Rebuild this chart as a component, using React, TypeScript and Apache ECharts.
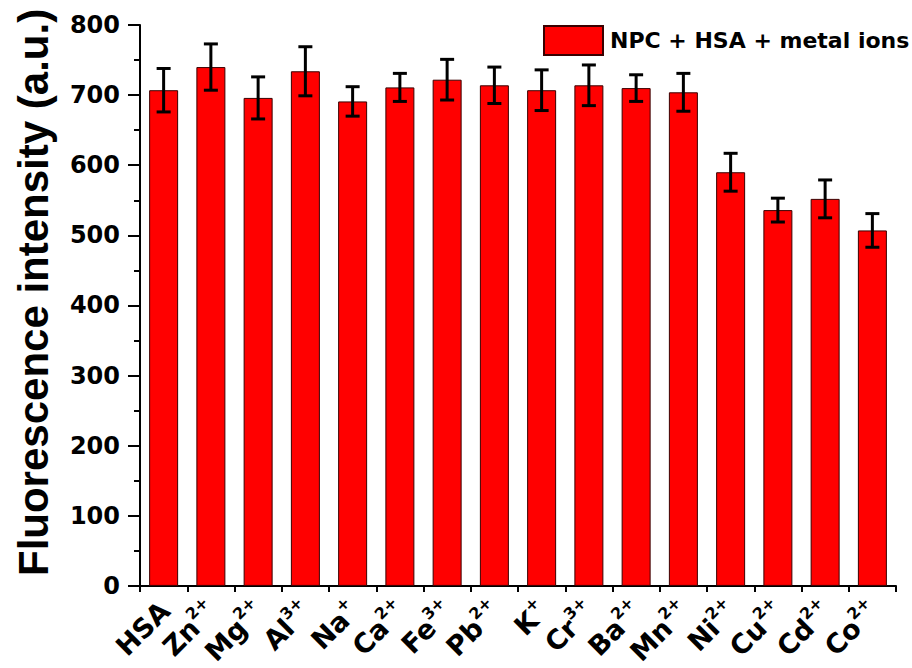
import React, { useEffect, useRef } from "react";
import * as echarts from "echarts";

const categories = ["HSA", "Zn2+", "Mg2+", "Al3+", "Na+", "Ca2+", "Fe3+", "Pb2+", "K+", "Cr3+", "Ba2+", "Mn2+", "Ni2+", "Cu2+", "Cd2+", "Co2+"];
const intensity = [707, 740, 696, 734, 691, 711, 722, 714, 707, 714, 710, 704, 590, 536, 552, 507];
const errors = [31, 33, 30, 35, 21, 20, 29, 26, 29, 29, 19, 27, 27, 17, 27, 24];
const seriesName = "NPC + HSA + metal ions";
const yTitle = "Fluorescence intensity (a.u.)";

const LAB_FONT = "'DejaVu Sans', sans-serif";
const TITLE_FONT = "'Liberation Sans', Arial, sans-serif";

export default function App() {
  const ref = useRef<HTMLDivElement>(null);
  useEffect(() => {
    if (!ref.current) return;
    const chart = echarts.init(ref.current, undefined, { renderer: "svg" });
    const errData = intensity.map((v, i) => [i, v, errors[i]]);
    chart.setOption({
      animation: false,
      backgroundColor: "#ffffff",
      legend: {
        data: [{ name: seriesName, icon: "rect" }],
        left: 543,
        top: 25,
        itemWidth: 59,
        itemHeight: 29,
        padding: 0,
        textStyle: { fontSize: 22, fontWeight: "bold", fontFamily: LAB_FONT, color: "#000", padding: [0, 0, 8, 2] },
      },
      grid: { left: 140, right: 16, top: 25, bottom: 81, containLabel: false },
      xAxis: [
        {
          type: "category",
          data: categories,
          axisLine: { lineStyle: { color: "#000", width: 2 } },
          axisTick: { alignWithLabel: true, length: 10, lineStyle: { color: "#000", width: 2 } },
          axisLabel: {
            rotate: 45,
            margin: 19,
            interval: 0,
            formatter: (val: string) => {
              const m = val.match(/^([A-Za-z]+?)(\d*\+)?$/);
              if (!m) return val;
              return m[2] ? `{b|${m[1]}}{s|${m[2]}}` : `{b|${m[1]}}`;
            },
            rich: {
              b: { fontSize: 27, fontWeight: "bold", fontFamily: LAB_FONT, color: "#000", lineHeight: 31, verticalAlign: "bottom" },
              s: { fontSize: 16, fontWeight: "bold", fontFamily: LAB_FONT, color: "#000", lineHeight: 14, verticalAlign: "top" },
            },
          },
        },
        {
          type: "category",
          data: categories,
          position: "bottom",
          axisLine: { show: false },
          axisTick: { show: true, length: 6, lineStyle: { color: "#000", width: 2 } },
          axisLabel: { show: false },
        },
      ],
      yAxis: {
        type: "value",
        min: 0,
        max: 800,
        interval: 100,
        name: yTitle,
        nameLocation: "middle",
        nameGap: 86,
        nameTextStyle: { fontSize: 42, fontWeight: "bold", fontFamily: TITLE_FONT, color: "#000", padding: [0, 0, 0, 26] },
        axisLine: { show: true, lineStyle: { color: "#000", width: 2 } },
        axisTick: { show: true, length: 12, lineStyle: { color: "#000", width: 2 } },
        minorTick: { show: true, splitNumber: 2, length: 6, lineStyle: { color: "#000", width: 2 } },
        splitLine: { show: false },
        axisLabel: { fontSize: 24, fontWeight: "bold", fontFamily: LAB_FONT, color: "#000", margin: 20 },
      },
      series: [
        {
          name: seriesName,
          type: "bar",
          data: intensity,
          barWidth: 29,
          itemStyle: { color: "#ff0000", borderColor: "#3a0000", borderWidth: 1 },
        },
        {
          type: "custom",
          data: errData,
          z: 10,
          renderItem: (params: any, api: any) => {
            const i = api.value(0);
            const v = api.value(1);
            const e = api.value(2);
            const top = api.coord([i, v + e]);
            const bot = api.coord([i, v - e]);
            const hw = 7;
            const style = { stroke: "#000", lineWidth: 3, fill: "none" };
            return {
              type: "group",
              children: [
                { type: "line", shape: { x1: top[0], y1: top[1], x2: bot[0], y2: bot[1] }, style },
                { type: "line", shape: { x1: top[0] - hw, y1: top[1], x2: top[0] + hw, y2: top[1] }, style },
                { type: "line", shape: { x1: bot[0] - hw, y1: bot[1], x2: bot[0] + hw, y2: bot[1] }, style },
              ],
            };
          },
        },
      ],
    });
    return () => chart.dispose();
  }, []);
  return <div ref={ref} style={{ position: "fixed", left: 0, top: 0, width: 912, height: 668 }} />;
}
